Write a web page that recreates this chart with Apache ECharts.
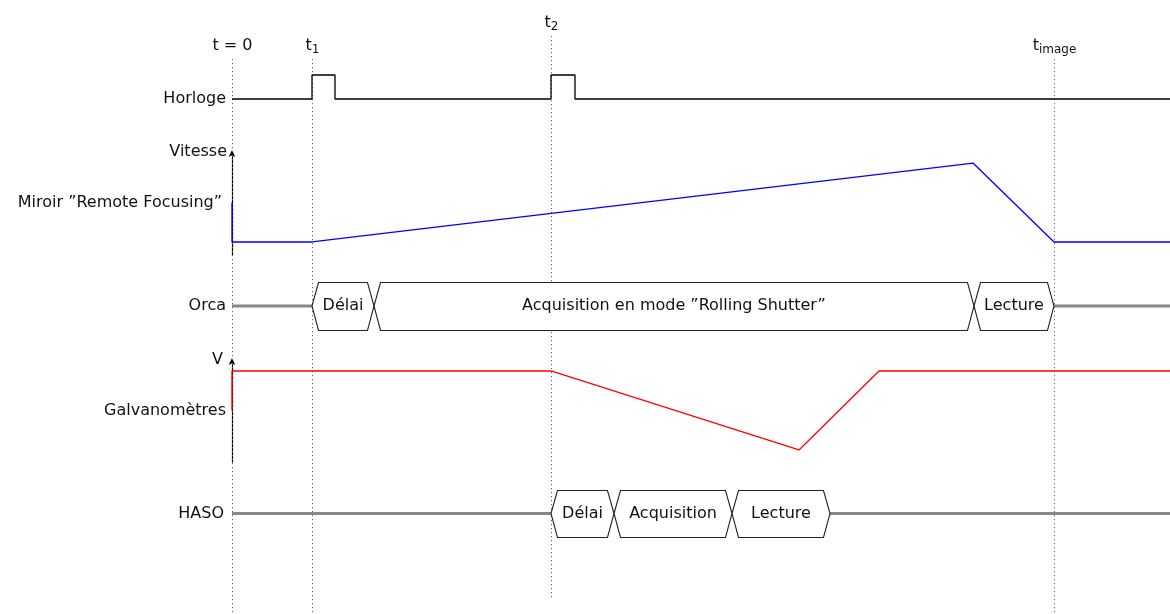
<!DOCTYPE html>
<html><head><meta charset="utf-8">
<script src="https://cdn.jsdelivr.net/npm/echarts@6/dist/echarts.min.js"></script>
<style>html,body{margin:0;padding:0;background:#fff}#c{width:1170px;height:614px}</style>
</head><body><div id="c"></div>
<script>
// ---------- DATA (time units from t = 0) ----------
const TIME_END = 938;
const markerTimes = [0, 80, 319, 822];
const markerMain = ['t = 0', 't', 't', 't'];
const markerSub = ['', '1', '2', 'image'];

const laneNames = ['Horloge', 'Miroir ”Remote Focusing”', 'Orca', 'Galvanomètres', 'HASO'];
const laneLabelValues = [0, 0.5, 0.5, 0.5, 0.5];

const clockPulses = [[80, 103], [319, 343]];

const mirrorAxisName = 'Vitesse';
const mirrorT = [0, 0, 80, 741, 822, 938];
const mirrorV = [0.5, 0, 0, 1, 0, 0];

const orcaBounds = [80, 142, 742, 822];
const orcaPhases = ['Délai', 'Acquisition en mode ”Rolling Shutter”', 'Lecture'];
const orcaIdle = [[0, 80], [822, 938]];

const galvoAxisName = 'V';
const galvoT = [0, 0, 319, 567, 647, 938];
const galvoV = [0.5, 1, 1, 0, 1, 1];

const hasoBounds = [319, 382, 500, 598];
const hasoPhases = ['Délai', 'Acquisition', 'Lecture'];
const hasoIdle = [[0, 319], [598, 938]];

// ---------- LAYOUT / STYLE ----------
const FONT = 'DejaVu Sans';
const FS = 16;
const TXT = '#111';
const layout = [
  {top: 75, height: 24, min: 0, max: 1},
  {top: 152, height: 103, min: -0.165, max: 1.14},
  {top: 282, height: 48, min: 0, max: 1},
  {top: 360, height: 102, min: -0.152, max: 1.139},
  {top: 490, height: 47, min: 0, max: 1},
  {top: 0, height: 614, min: 0, max: 614}
];
const OV = 5;
const labelGap = [6, 10, 6, 6, 8];

const grid = layout.map(l => ({left: 232, right: 0, top: l.top, height: l.height}));
const xAxis = layout.map((l, i) => ({type: 'value', gridIndex: i, min: 0, max: TIME_END, show: false}));
const yAxis = layout.map((l, i) => ({type: 'value', gridIndex: i, min: l.min, max: l.max, show: false, inverse: i === OV}));

function arrowAxis(i, name, pad) {
  Object.assign(yAxis[i], {
    show: true,
    name: name, nameLocation: 'end', nameGap: 0,
    nameTextStyle: {align: 'right', verticalAlign: 'middle', padding: [0, pad, 0, 0], fontFamily: FONT, fontSize: FS, color: TXT},
    axisLine: {show: true, onZero: false, symbol: ['none', 'arrow'], symbolSize: [5, 7], symbolOffset: [0, 2], lineStyle: {color: '#000', width: 1.2}},
    axisTick: {show: false}, axisLabel: {show: false}, splitLine: {show: false}
  });
}
arrowAxis(1, mirrorAxisName, 5);
arrowAxis(3, galvoAxisName, 9);

const series = [];

// markers (dotted lines + labels)
const markerLift = [0, 0, 23, 0];
series.push({
  type: 'custom', xAxisIndex: OV, yAxisIndex: OV, z: 1, silent: true,
  data: markerTimes.map((t, i) => [t, i]),
  renderItem(params, api) {
    const i = params.dataIndex;
    const x = Math.round(api.coord([api.value(0), 0])[0]) + 0.5;
    const lift = markerLift[i];
    const txt = markerSub[i] ? `{m|${markerMain[i]}}{s|${markerSub[i]}}` : `{m|${markerMain[i]}}`;
    return {type: 'group', children: [
      {type: 'line', shape: {x1: x, y1: 59 - lift, x2: x, y2: 622 - lift},
       style: {stroke: '#666', lineWidth: 1, lineDash: [1.2, 2.8]}},
      {type: 'text', x: x, y: 46 - lift, style: {
        text: txt, align: 'center', verticalAlign: 'middle',
        rich: {
          m: {fontFamily: FONT, fontSize: FS, lineHeight: 20, fill: TXT, verticalAlign: 'middle'},
          s: {fontFamily: FONT, fontSize: 12, lineHeight: 12, fill: TXT, verticalAlign: 'bottom'}
        }}}
    ]};
  }
});

// lane labels
laneNames.forEach((name, i) => {
  series.push({
    type: 'custom', xAxisIndex: i, yAxisIndex: i, z: 5, silent: true, clip: false,
    data: [[0, laneLabelValues[i]]],
    renderItem(params, api) {
      const p = api.coord([api.value(0), api.value(1)]);
      return {type: 'text', x: p[0] - labelGap[i], y: p[1], style: {
        text: name, align: 'right', verticalAlign: 'middle', fontFamily: FONT, fontSize: FS, fill: TXT}};
    }
  });
});

// clock
const clockData = [[0, 0]];
clockPulses.forEach(([a, b]) => { clockData.push([a, 0], [a, 1], [b, 1], [b, 0]); });
clockData.push([TIME_END, 0]);
series.push({type: 'line', xAxisIndex: 0, yAxisIndex: 0, data: clockData, showSymbol: false, clip: false, z: 3,
  lineStyle: {color: '#000', width: 1.3}, animation: false});

// mirror
series.push({type: 'line', xAxisIndex: 1, yAxisIndex: 1, data: mirrorT.map((t, i) => [t, mirrorV[i]]), showSymbol: false, clip: false, z: 4,
  lineStyle: {color: '#0000ff', width: 1.3}, animation: false});

// galvo
series.push({type: 'line', xAxisIndex: 3, yAxisIndex: 3, data: galvoT.map((t, i) => [t, galvoV[i]]), showSymbol: false, clip: false, z: 4,
  lineStyle: {color: '#ff0000', width: 1.3}, animation: false});

// idle lines and phase boxes
function idleSeries(lane, idle) {
  return {type: 'custom', xAxisIndex: lane, yAxisIndex: lane, z: 2, silent: true, clip: false,
    data: idle,
    renderItem(params, api) {
      const a = api.coord([api.value(0), 0.5]);
      const b = api.coord([api.value(1), 0.5]);
      return {type: 'line', shape: {x1: a[0], y1: a[1], x2: b[0], y2: b[1]}, style: {stroke: '#888', lineWidth: 3}};
    }};
}
function boxSeries(lane, bounds, phases) {
  const data = phases.map((p, i) => [bounds[i], bounds[i + 1], i]);
  return {type: 'custom', xAxisIndex: lane, yAxisIndex: lane, z: 3, silent: true, clip: false,
    data: data,
    renderItem(params, api) {
      const s = api.value(0), e = api.value(1), i = api.value(2);
      const p0 = api.coord([s, 0.5]), p1 = api.coord([e, 0.5]);
      const yt = Math.round(api.coord([s, 1])[1]) + 0.5, yb = Math.round(api.coord([s, 0])[1]) + 0.5;
      const k = 6.5;
      return {type: 'group', children: [
        {type: 'polygon', shape: {points: [[p0[0], p0[1]], [p0[0] + k, yt], [p1[0] - k, yt], [p1[0], p1[1]], [p1[0] - k, yb], [p0[0] + k, yb]]},
         style: {fill: '#fff', stroke: '#222', lineWidth: 1.1}},
        {type: 'text', x: (p0[0] + p1[0]) / 2, y: p0[1], style: {text: phases[i], align: 'center', verticalAlign: 'middle', fontFamily: FONT, fontSize: FS, fill: TXT}}
      ]};
    }};
}
series.push(idleSeries(2, orcaIdle), boxSeries(2, orcaBounds, orcaPhases));
series.push(idleSeries(4, hasoIdle), boxSeries(4, hasoBounds, hasoPhases));

const chart = echarts.init(document.getElementById('c'), null, {renderer: 'canvas'});
chart.setOption({animation: false, backgroundColor: '#fff', grid, xAxis, yAxis, series});
</script></body></html>
